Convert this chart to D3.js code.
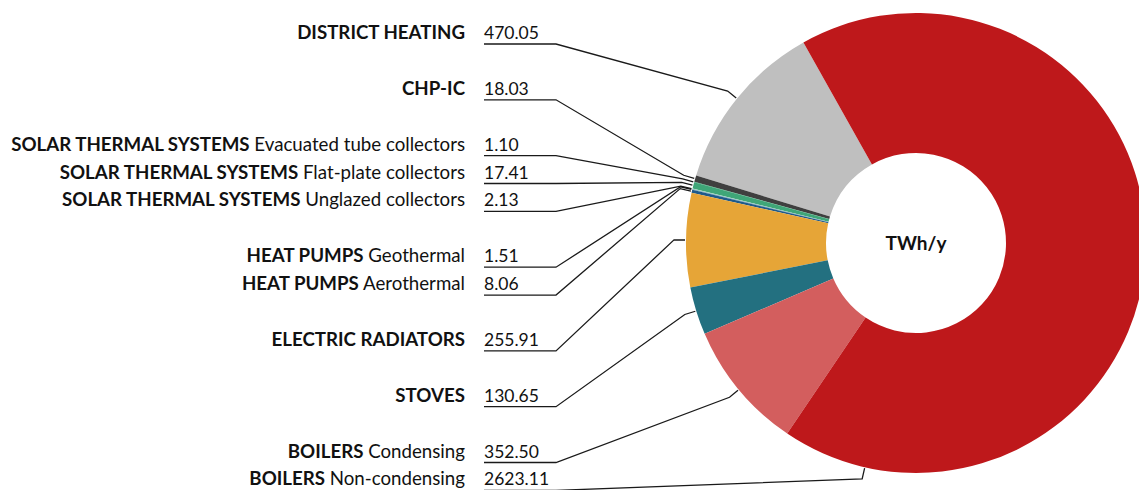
<!DOCTYPE html>
<html>
<head>
<meta charset="utf-8">
<script src="https://cdn.jsdelivr.net/npm/d3@7"></script>
<style>
  html, body { margin: 0; padding: 0; background: #fff; }
  svg { display: block; font-family: Lato, "Open Sans", sans-serif; }
</style>
</head>
<body>
<svg id="chart" width="1139" height="490"></svg>
<script>
// data, listed top to bottom as the labels read
const categories = ["DISTRICT HEATING", "CHP-IC", "SOLAR THERMAL SYSTEMS", "SOLAR THERMAL SYSTEMS",
  "SOLAR THERMAL SYSTEMS", "HEAT PUMPS", "HEAT PUMPS", "ELECTRIC RADIATORS", "STOVES", "BOILERS", "BOILERS"]
const subcategories = ["", "", "Evacuated tube collectors", "Flat-plate collectors", "Unglazed collectors",
  "Geothermal", "Aerothermal", "", "", "Condensing", "Non-condensing"]
const values = [470.05, 18.03, 1.10, 17.41, 2.13, 1.51, 8.06, 255.91, 130.65, 352.50, 2623.11]
const centerLabel = "TWh/y"

// styles / layout
const COLORS = ["#bfbfbf", "#3f3f3f", "#2f8f63", "#3fa678", "#9ad5ba", "#5b8db3", "#1e5a8a",
  "#e6a537", "#237080", "#d35e5e", "#be181b"]
const LABEL_ROWS = [0, 2, 4, 5, 6, 8, 9, 11, 13, 15, 16]
const WIDTH = 1139, HEIGHT = 490
const CX = 916, CY = 243
const OUTER_R = 230, INNER_R = 90
const START_ANGLE = -29.3 * Math.PI / 180
const ROW_H = 27.9, FIRST_UNDERLINE_Y = 44
const LABEL_RIGHT_X = 465, VALUE_X = 484, UNDERLINE_END_X = 556
const LABEL_FONT_SIZE = 18.7, VALUE_FONT_SIZE = 17.5

const svg = d3.select("#chart")

// pie goes counter-clockwise so that it follows the label order
const pie = d3.pie()
  .sort(null)
  .value(d => d)
  .startAngle(START_ANGLE)
  .endAngle(START_ANGLE - 2 * Math.PI)
const arcs = pie(values)

const arc = d3.arc().innerRadius(INNER_R).outerRadius(OUTER_R)

const pieG = svg.append("g").attr("transform", `translate(${CX},${CY})`)
pieG.selectAll("path.slice")
  .data(arcs)
  .join("path")
  .attr("class", "slice")
  .attr("d", arc)
  .attr("fill", (d, i) => COLORS[i])

pieG.append("text")
  .attr("x", 0)
  .attr("y", 0)
  .attr("dy", "0.35em")
  .attr("text-anchor", "middle")
  .attr("font-weight", "bold")
  .attr("font-size", 19)
  .attr("fill", "#111")
  .text(centerLabel)

const polar = (a, r) => [CX + r * Math.sin(a), CY - r * Math.cos(a)]

// anchor on the slice edge; if the middle is off the page slide toward the start
function anchorAngle(d) {
  const mid = (d.startAngle + d.endAngle) / 2
  const [x] = polar(mid, OUTER_R)
  if (x > WIDTH - 10) return d.startAngle - 0.37
  return mid
}

const fmt = d3.format(".2f")
const labelG = svg.append("g")

arcs.forEach((d, i) => {
  const uy = FIRST_UNDERLINE_Y + LABEL_ROWS[i] * ROW_H
  const a = anchorAngle(d)
  const tip = polar(a, OUTER_R + 1)
  const elbow = polar(a, OUTER_R + 12)

  labelG.append("path")
    .attr("d", `M${VALUE_X},${uy}H${UNDERLINE_END_X}L${elbow[0]},${elbow[1]}L${tip[0]},${tip[1]}`)
    .attr("fill", "none")
    .attr("stroke", "#1a1a1a")
    .attr("stroke-width", 1.3)

  const t = labelG.append("text")
    .attr("x", LABEL_RIGHT_X)
    .attr("y", uy - 5)
    .attr("text-anchor", "end")
    .attr("font-size", LABEL_FONT_SIZE)
    .attr("fill", "#111")
  t.append("tspan").attr("font-weight", "bold").text(categories[i])
  if (subcategories[i]) t.append("tspan").text(" " + subcategories[i])

  labelG.append("text")
    .attr("x", VALUE_X)
    .attr("y", uy - 5)
    .attr("font-size", VALUE_FONT_SIZE)
    .attr("fill", "#111")
    .text(fmt(values[i]))
})
</script>
</body>
</html>
